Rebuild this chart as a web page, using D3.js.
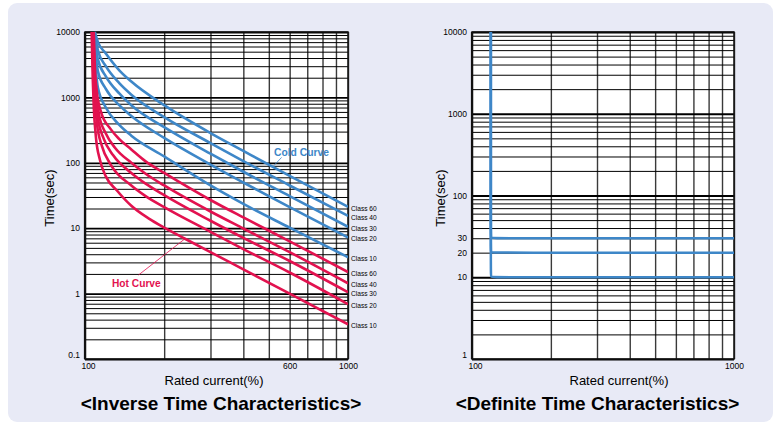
<!DOCTYPE html>
<html>
<head>
<meta charset="utf-8">
<script src="https://cdn.jsdelivr.net/npm/d3@7"></script>
<style>
body { margin: 0; background: #fff; }
text { font-family: "Liberation Sans", Arial, sans-serif; }
</style>
</head>
<body>
<div id="chart"></div>
<script>
// tick labels
var inverseXLabels = [100, 600, 1000];
var inverseYLabels = [10000, 1000, 100, 10, 1, 0.1];
var definiteXLabels = [100, 1000];
var definiteYLabels = [10000, 1000, 100, 30, 20, 10, 1];

var classNames = ["Class 60", "Class 40", "Class 30", "Class 20", "Class 10"];

// [rated current %, time sec]
var coldCurves = [
    [[109, 10000], [112, 7000], [120, 4700], [135, 2600], [150, 1750], [200, 760], [300, 285], [400, 152], [600, 63], [1000, 21.3]],
    [[108.5, 10000], [112, 5200], [120, 3000], [135, 1650], [150, 1100], [200, 500], [300, 200], [400, 106], [600, 45], [1000, 15.4]],
    [[108, 10000], [112, 3800], [120, 2100], [135, 1150], [150, 760], [200, 350], [300, 138], [400, 73], [600, 31], [1000, 10.5]],
    [[107.5, 10000], [112, 2500], [120, 1350], [135, 760], [150, 520], [200, 240], [300, 94], [400, 50], [600, 21], [1000, 7.2]],
    [[107, 10000], [112, 1400], [120, 700], [135, 380], [150, 260], [200, 125], [300, 45], [400, 23.5], [600, 10.2], [1000, 3.6]]
];

var hotCurves = [
    [[108, 10000], [109, 3000], [111, 1200], [115, 600], [125, 330], [135, 230], [150, 160], [170, 105], [200, 70], [300, 27], [400, 14.6], [600, 6.3], [1000, 2.14]],
    [[107.5, 10000], [108.5, 3000], [110, 1200], [113, 550], [120, 280], [130, 170], [150, 100], [170, 68], [200, 45], [300, 18], [400, 9.9], [600, 4.3], [1000, 1.44]],
    [[107, 10000], [108, 3000], [109.5, 1100], [112, 480], [118, 230], [128, 130], [150, 70], [170, 48], [200, 32], [300, 13], [400, 7.1], [600, 3.15], [1000, 1.05]],
    [[106.5, 10000], [107.5, 2500], [109, 900], [111, 400], [116, 180], [125, 95], [150, 45], [170, 31], [200, 21], [300, 8.8], [400, 4.8], [600, 2.1], [1000, 0.69]],
    [[106, 10000], [107, 2000], [108, 700], [110, 250], [114, 110], [120, 62], [132, 38], [150, 22], [175, 14], [200, 10.2], [240, 6.9], [300, 4.3], [400, 2.35], [600, 1.0], [1000, 0.34]]
];

var definiteLevels = [30, 20, 10];
var definiteCurrent = 118;

var blue = "#3e87c8";
var red = "#e2124f";

function isDecade(d) {
    var l = Math.log10(d);
    return Math.abs(l - Math.round(l)) < 1e-6;
}

function drawPanel(svg, p) {
    var x = d3.scaleLog().domain([100, 1000]).range([p.left, p.right]);
    var y = d3.scaleLog().domain(p.yDomain).range([p.bottom, p.top]);
    var g = svg.append("g");

    g.append("rect")
        .attr("x", p.left).attr("y", p.top)
        .attr("width", p.right - p.left).attr("height", p.bottom - p.top)
        .attr("fill", "#fff");

    // vertical grid
    var gx = g.append("g")
        .attr("transform", "translate(0," + p.bottom + ")")
        .call(d3.axisBottom(x).tickSize(-(p.bottom - p.top)).tickFormat(""));
    gx.select(".domain").remove();
    gx.selectAll(".tick line").attr("stroke", "#3a3a3a").attr("stroke-width", 1.4);

    // horizontal grid
    var gy = g.append("g")
        .attr("transform", "translate(" + p.left + ",0)")
        .call(d3.axisLeft(y).tickSize(-(p.right - p.left)).tickFormat(""));
    gy.select(".domain").remove();
    gy.selectAll(".tick line")
        .attr("stroke", "#000")
        .attr("stroke-width", function(d) { return isDecade(d) ? 1.8 : 1; });

    // frame
    g.append("rect")
        .attr("x", p.left).attr("y", p.top)
        .attr("width", p.right - p.left).attr("height", p.bottom - p.top)
        .attr("fill", "none").attr("stroke", "#111").attr("stroke-width", 1.5);
    g.append("line")
        .attr("x1", p.left).attr("x2", p.left)
        .attr("y1", p.top).attr("y2", p.bottom)
        .attr("stroke", "#111").attr("stroke-width", 2.2);

    // tick labels
    var ly = g.append("g")
        .attr("transform", "translate(" + p.left + ",0)")
        .call(d3.axisLeft(y).tickValues(p.yLabels).tickSize(0).tickPadding(5).tickFormat(function(d) { return String(d); }));
    ly.select(".domain").remove();
    ly.attr("font-family", null).attr("font-size", 8.5);
    ly.selectAll(".tick").filter(function(d) { return d === p.yDomain[0]; })
        .select("text").attr("y", -4);

    var lx = g.append("g")
        .attr("transform", "translate(0," + p.bottom + ")")
        .call(d3.axisBottom(x).tickValues(p.xLabels).tickSize(0).tickPadding(4).tickFormat(function(d) { return String(d); }));
    lx.select(".domain").remove();
    lx.attr("font-family", null).attr("font-size", 8.5);
    lx.selectAll(".tick").filter(function(d) { return d === 100; })
        .select("text").attr("x", 3);

    // axis titles
    g.append("text")
        .attr("x", p.xTitleX).attr("y", 384.5)
        .attr("text-anchor", "middle")
        .attr("font-size", 13)
        .text("Rated current(%)");
    g.append("text")
        .attr("transform", "translate(" + p.yTitleX + ",198) rotate(-90)")
        .attr("text-anchor", "middle")
        .attr("font-size", 13)
        .text("Time(sec)");

    g.append("text")
        .attr("x", p.titleX).attr("y", 410)
        .attr("text-anchor", "middle")
        .attr("font-size", 19)
        .attr("font-weight", "bold")
        .text(p.title);

    var clipId = "clip" + p.left;
    svg.append("clipPath").attr("id", clipId)
        .append("rect")
        .attr("x", p.left).attr("y", p.top - 2)
        .attr("width", p.right - p.left).attr("height", p.bottom - p.top + 2);

    return { x: x, y: y, g: g, clip: "url(#" + clipId + ")" };
}

function init() {
    var w = 775;
    var h = 425;

    var svg = d3.select("#chart")
        .append("svg")
        .attr("width", w)
        .attr("height", h);

    svg.append("rect")
        .attr("x", 8).attr("y", 3)
        .attr("width", 765).attr("height", 419)
        .attr("rx", 9)
        .attr("fill", "#e8eaf6");

    // ---- inverse time ----
    var inv = drawPanel(svg, {
        left: 85, right: 348, top: 32, bottom: 359,
        yDomain: [0.1, 10000],
        yLabels: inverseYLabels, xLabels: inverseXLabels,
        xTitleX: 214, yTitleX: 53.5, titleX: 221,
        title: "<Inverse Time Characteristics>"
    });

    var line = d3.line()
        .x(function(d) { return inv.x(d[0]); })
        .y(function(d) { return inv.y(d[1]); })
        .curve(d3.curveMonotoneX);

    var curves = inv.g.append("g").attr("clip-path", inv.clip);
    curves.selectAll("path.cold")
        .data(coldCurves)
        .enter().append("path")
        .attr("class", "cold")
        .attr("d", line)
        .attr("fill", "none")
        .attr("stroke", blue)
        .attr("stroke-width", 2.6);
    curves.selectAll("path.hot")
        .data(hotCurves)
        .enter().append("path")
        .attr("class", "hot")
        .attr("d", line)
        .attr("fill", "none")
        .attr("stroke", red)
        .attr("stroke-width", 2.6);

    // class labels at the right end of each curve
    coldCurves.concat(hotCurves).forEach(function(c, i) {
        var last = c[c.length - 1];
        inv.g.append("text")
            .attr("x", inv.x(1000) + 3)
            .attr("y", inv.y(last[1]) + 1.5)
            .attr("dy", "0.35em")
            .attr("font-size", 6.6)
            .text(classNames[i % classNames.length]);
    });

    // annotations
    inv.g.append("line")
        .attr("x1", inv.x(519)).attr("y1", inv.y(88))
        .attr("x2", inv.x(519) + 8.5).attr("y2", inv.y(88) - 9)
        .attr("stroke", blue).attr("stroke-width", 0.8);
    inv.g.append("text")
        .attr("x", 274).attr("y", 155.5)
        .attr("font-size", 10.3).attr("font-weight", "bold")
        .attr("fill", blue)
        .text("Cold Curve");

    inv.g.append("line")
        .attr("x1", inv.x(240)).attr("y1", inv.y(6.9))
        .attr("x2", 138.5).attr("y2", 275)
        .attr("stroke", red).attr("stroke-width", 0.8);
    inv.g.append("text")
        .attr("x", 112).attr("y", 287)
        .attr("font-size", 10.2).attr("font-weight", "bold")
        .attr("fill", red)
        .text("Hot Curve");

    // ---- definite time ----
    var def = drawPanel(svg, {
        left: 472, right: 734, top: 32, bottom: 359,
        yDomain: [1, 10000],
        yLabels: definiteYLabels, xLabels: definiteXLabels,
        xTitleX: 619, yTitleX: 444.5, titleX: 597.5,
        title: "<Definite Time Characteristics>"
    });

    var defLine = d3.line()
        .x(function(d) { return def.x(d[0]); })
        .y(function(d) { return def.y(d[1]); })
        .curve(d3.curveBasis);

    def.g.append("g").attr("clip-path", def.clip)
        .selectAll("path")
        .data(definiteLevels)
        .enter().append("path")
        .attr("d", function(v) {
            return defLine([
                [definiteCurrent, 10000],
                [definiteCurrent, v * 1.12],
                [definiteCurrent, v],
                [definiteCurrent * 1.025, v],
                [1000, v]
            ]);
        })
        .attr("fill", "none")
        .attr("stroke", blue)
        .attr("stroke-width", 2.5);
}

window.onload = init;
</script>
</body>
</html>
